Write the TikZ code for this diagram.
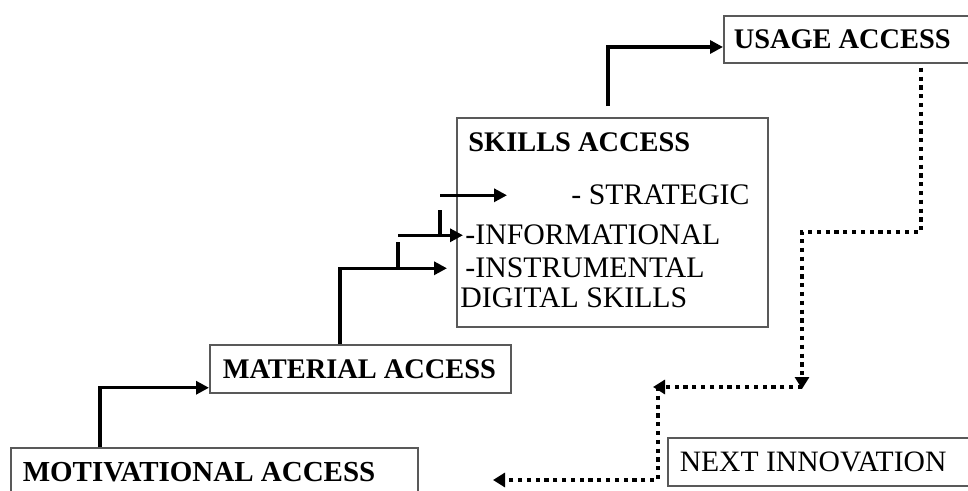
\documentclass[tikz,border=0pt]{standalone}
\usepackage{fontspec}
\setmainfont{Liberation Serif}
\usetikzlibrary{arrows.meta}

\tikzset{
  stage/.style={draw=black!65, line width=0.75pt, anchor=west, align=flush left,
    inner xsep=6pt, inner ysep=0pt, font=\fontsize{14.2}{17}\selectfont\bfseries},
  skline/.style={anchor=base west, inner sep=0pt, font=\fontsize{14.9}{17}\selectfont},
  climb/.style={line width=1.6pt, -{Triangle[length=6.5pt,width=6.5pt]}},
  stub/.style={line width=1.6pt},
  flow/.style={line width=2.1pt, dash pattern=on 2.1pt off 2.3pt,
    -{Triangle[length=6pt,width=7pt]}}
}

\begin{document}
\begin{tikzpicture}[x=0.5pt,y=-0.5pt]
        \useasboundingbox (0,0) rectangle (968,491);
        \clip (0,0) rectangle (968,491);

        % the steps
        \node[stage, text width=125pt, minimum height=23.5pt, inner xsep=5pt] (usage) at (723,39.5) {\mbox{USAGE ACCESS}};
        \node[draw=black!65, line width=0.75pt, minimum width=155.5pt, minimum height=104.5pt] (skills) at (612.5,222.5) {};
        \node[stage, text width=137.5pt, minimum height=24pt, inner xsep=6.5pt] (material) at (209,369) {\mbox{MATERIAL ACCESS}};
        \node[stage, text width=191.5pt, minimum height=24.5pt, font=\fontsize{14.5}{17}\selectfont\bfseries] (motiv) at (10,472.5) {\mbox{MOTIVATIONAL ACCESS}};
        \node[stage, text width=150pt, minimum height=24pt, font=\fontsize{14.8}{17}\selectfont] (next) at (667,462) {\mbox{NEXT INNOVATION}};

        % inside the skills box
        \node[skline, font=\fontsize{14.2}{17}\selectfont\bfseries] (skTitle) at (468,152) {SKILLS ACCESS};
        \node[skline] (strat) at (571,205) {- STRATEGIC};
        \node[skline] (info) at (465,245) {-INFORMATIONAL};
        \node[skline] (instr) at (465,278) {-INSTRUMENTAL};
        \node[skline] (digital) at (460,308) {DIGITAL SKILLS};

        % solid steps up
        \draw[climb] ([xshift=45pt]motiv.north west) |- ([yshift=3pt]material.south west);
        \draw[climb] ([xshift=65.5pt]material.north west) |- ([xshift=-9pt]instr.west);
        \draw[stub] ([xshift=-33.5pt]instr.west) -- ++(0,-26);
        \draw[climb] ([xshift=-33.5pt]info.west) -- ([xshift=-1pt]info.west);
        \draw[stub] ([xshift=-12.5pt]info.west) -- ++(0,-25);
        \draw[climb] ([xshift=-65.5pt]strat.west) -- ([xshift=-32pt]strat.west);
        \draw[climb] ([shift={(-2.25pt,5.5pt)}]skills.north) |- ([yshift=-3.75pt]usage.west);

        % dotted way back down
        \coordinate (dropA) at (802,389);
        \coordinate (backA) at (653,387);
        \coordinate (backB) at (493,480);
        \draw[flow] ([xshift=99pt,yshift=-2pt]usage.south west) -- ++(0,164) -- ++(-119,0) -- (dropA);
        \draw[flow] (802,387) -- (backA);
        \draw[flow] ([xshift=2.5pt]backA) |- (backB);
\end{tikzpicture}
\end{document}
